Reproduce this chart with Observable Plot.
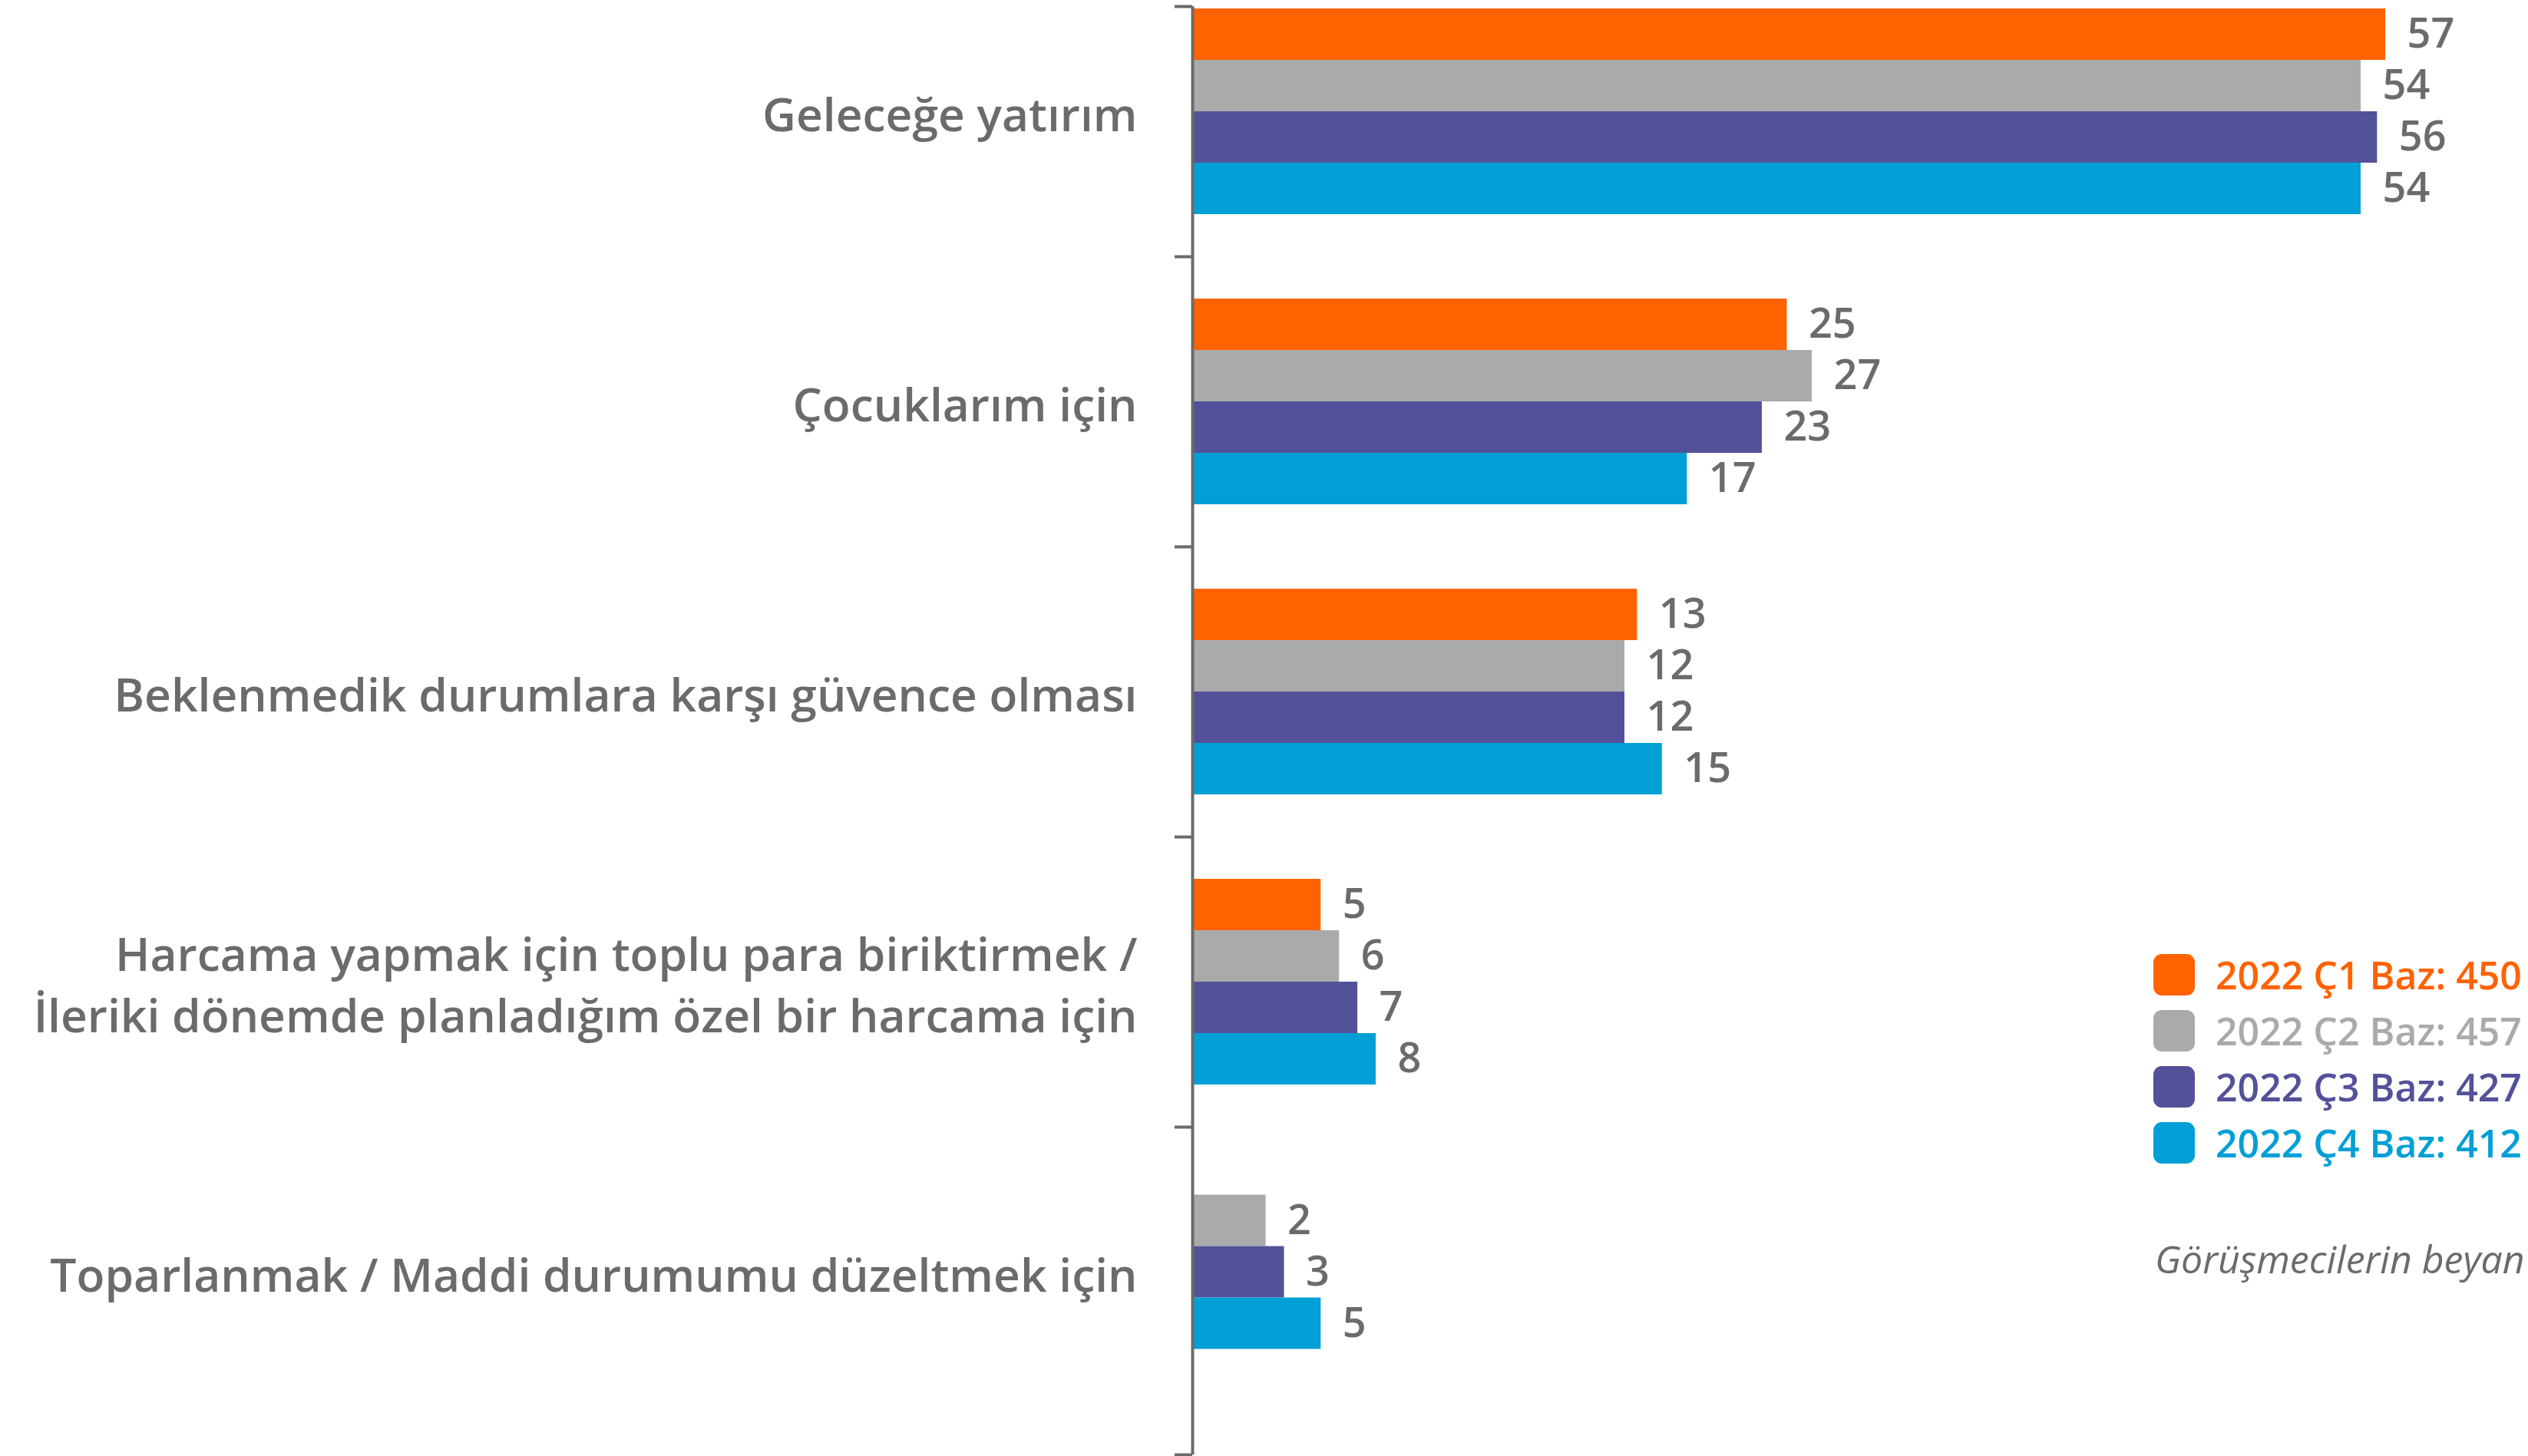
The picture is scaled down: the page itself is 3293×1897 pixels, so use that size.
<!DOCTYPE html>
<html>
<head>
<meta charset="utf-8">
<script src="https://cdn.jsdelivr.net/npm/d3@7"></script>
<script src="https://cdn.jsdelivr.net/npm/@observablehq/plot@0.6"></script>
<style>
  html, body { margin: 0; padding: 0; background: #ffffff; }
  #wrap { position: relative; width: 3293px; height: 1897px; overflow: hidden; font-family: "Open Sans", sans-serif; }
  #legend { position: absolute; left: 2805px; top: 1233px; }
  .lg-row { display: flex; align-items: center; height: 73px; }
  .lg-sw { width: 54px; height: 54px; border-radius: 11px; margin-right: 27px; }
  .lg-tx { font-size: 50px; font-weight: 600; white-space: nowrap; }
  #note { position: absolute; left: 2807px; top: 1606px; font-size: 50px; font-style: italic; color: #6b6b6b; white-space: nowrap; }
</style>
</head>
<body>
<div id="wrap"><div id="chart"></div><div id="legend"></div><div id="note"></div></div>
<script>
// ---- data ----
const categories = [
  "Geleceğe yatırım",
  "Çocuklarım için",
  "Beklenmedik durumlara karşı güvence olması",
  "Harcama yapmak için toplu para biriktirmek /\nİleriki dönemde planladığım özel bir harcama için",
  "Toparlanmak / Maddi durumumu düzeltmek için"
];
const seriesNames = ["2022 Ç1", "2022 Ç2", "2022 Ç3", "2022 Ç4"];
const seriesBases = [450, 457, 427, 412];
const q1 = [57, 25, 13, 5, null];
const q2 = [54, 27, 12, 6, 2];
const q3 = [56, 23, 12, 7, 3];
const q4 = [54, 17, 15, 8, 5];
const seriesColors = ["#ff6200", "#aaaaaa", "#525199", "#009fd6"];
const footnote = "Görüşmecilerin beyan";

// ---- build table ----
const values = [q1, q2, q3, q4];
const rows = [];
categories.forEach((c, i) => {
  const present = seriesNames.map((s, j) => ({s, v: values[j][i]})).filter(d => d.v != null);
  present.forEach((d, k) => rows.push({cat: c, ci: i, series: d.s, value: d.v, slot: k - (present.length - 1) / 2}));
});

const barT = 0.1772;      // bar thickness in category units
const xBase = -2;         // baseline of the bars (axis position)
const ink = "#6b6b6b";
const boundaries = [-0.3624, 0.5, 1.5, 2.5, 3.5, 4.6296];

const chart = Plot.plot({
  width: 3293,
  height: 1897,
  marginLeft: 1553,
  marginRight: 0,
  marginTop: 8,
  marginBottom: 2,
  style: {fontFamily: "Open Sans, sans-serif", background: "transparent", overflow: "visible"},
  x: {type: "linear", axis: null, domain: [xBase, 8, 12, 27, 54, 57], range: [1553, 1792, 2116, 2360, 3075, 3107]},
  y: {type: "linear", axis: null, domain: [-0.3624, 4.6296], reverse: true},
  color: {domain: seriesNames, range: seriesColors},
  marks: [
    Plot.rect(rows, {
      x1: xBase, x2: "value",
      y1: d => d.ci + (d.slot - 0.5) * barT,
      y2: d => d.ci + (d.slot + 0.5) * barT,
      fill: "series"
    }),
    Plot.text(rows, {
      x: "value", y: d => d.ci + d.slot * barT, text: d => String(d.value),
      dx: 28, textAnchor: "start", fontSize: 54, fontWeight: 600, fill: ink
    }),
    Plot.text(categories, {
      frameAnchor: "left", y: (d, i) => i, text: d => d,
      dx: -72, textAnchor: "end", fontSize: 60.5, fontWeight: 600, fill: ink, lineHeight: 1.32
    }),
    Plot.tickY(boundaries, {y: d => d, stroke: ink, strokeWidth: 4, insetLeft: -23, insetRight: 3293 - 1553, strokeLinecap: "butt"}),
    Plot.ruleX([xBase], {stroke: ink, strokeWidth: 4})
  ]
});
document.getElementById("chart").appendChild(chart);

// ---- legend ----
const legend = document.getElementById("legend");
seriesNames.forEach((s, j) => {
  const row = document.createElement("div");
  row.className = "lg-row";
  const sw = document.createElement("div");
  sw.className = "lg-sw";
  sw.style.background = seriesColors[j];
  const tx = document.createElement("div");
  tx.className = "lg-tx";
  tx.style.color = seriesColors[j];
  tx.textContent = `${s} Baz: ${seriesBases[j]}`;
  row.appendChild(sw); row.appendChild(tx);
  legend.appendChild(row);
});
document.getElementById("note").textContent = footnote;
</script>
</body>
</html>
